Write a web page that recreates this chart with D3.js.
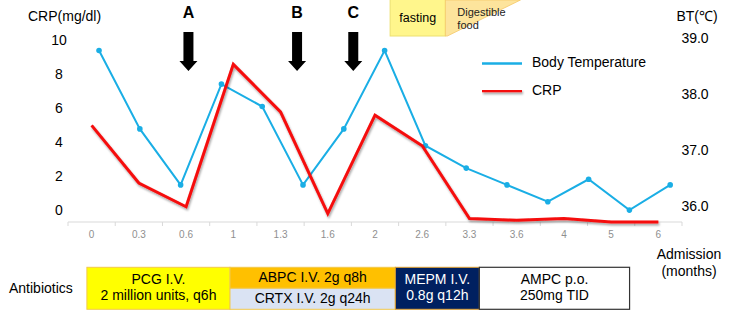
<!DOCTYPE html>
<html>
<head>
<meta charset="utf-8">
<script src="https://cdn.jsdelivr.net/npm/d3@7"></script>
<style>
  html, body { margin: 0; padding: 0; background: #fff; }
  svg { display: block; font-family: "Liberation Sans", Arial, sans-serif; }
</style>
</head>
<body>
<svg id="chart" width="750" height="316"></svg>
<script>
// ---------------- data ----------------
const xCategories = ["0", "0.3", "0.6", "1", "1.3", "1.6", "2", "2.6", "3.3", "3.6", "4", "5", "6"];
const crpValues = [5.7, 2.3, 0.9, 9.3, 6.5, 0.5, 6.3, 4.5, 0.2, 0.1, 0.2, 0.0, 0.0];
const btValues = [38.8, 37.4, 36.4, 38.2, 37.8, 36.4, 37.4, 38.8, 37.1, 36.7, 36.4, 36.1, 36.5, 35.95, 36.4];
const crpTicks = [0, 2, 4, 6, 8, 10];
const btTicks = [36, 37, 38, 39];
const seriesNames = ["Body Temperature", "CRP"];
// event markers, positioned in units of category slots along the time axis
const arrowLabels = ["A", "B", "C"];
const arrowAt = [2.55, 4.85, 6.04];
// diet periods (category-slot units)
const dietLabels = [["fasting"], ["Digestible", "food"]];
const dietFrom = [6.82, 7.99];
const dietTo = [7.99, 9.58];
// antibiotic regimens (category-slot units)
const regimenLines = [
  ["PCG I.V.", "2 million units, q6h"],
  ["ABPC I.V. 2g q8h"],
  ["CRTX I.V. 2g q24h"],
  ["MEPM I.V.", "0.8g q12h"],
  ["AMPC p.o.", "250mg TID"]
];
const regimenFrom = [0.40, 3.43, 3.43, 6.93, 8.71];
const regimenTo = [3.43, 6.93, 6.93, 8.71, 11.89];
const regimenRow = ["full", "top", "bottom", "full", "full"];

// ---------------- styles ----------------
const blue = "#1aaee5";
const red = "#f50a0a";
const regimenFill = ["#ffff00", "#ffc000", "#dae3f3", "#002060", "#ffffff"];
const regimenStroke = ["#f2c94c", "#f2c94c", "#f2c94c", "#e0a030", "#333333"];
const regimenText = ["#000", "#000", "#000", "#fff", "#000"];
const dietFill = ["#fff68c", "#fde49c"];
const dietStroke = ["#ece070", "#f5c96a"];

// ---------------- layout ----------------
const plotLeft = 68, plotRight = 682, axisY = 222;
const svg = d3.select("#chart");

const defs = svg.append("defs");
const f = defs.append("filter").attr("id", "shadow").attr("filterUnits", "userSpaceOnUse")
  .attr("x", 0).attr("y", 0).attr("width", 750).attr("height", 316);
f.append("feDropShadow").attr("dx", 1).attr("dy", 2).attr("stdDeviation", 1.3)
  .attr("flood-color", "#000").attr("flood-opacity", 0.35);

const x = d3.scaleBand().domain(xCategories).range([plotLeft, plotRight]);
const xSlot = d3.scaleLinear().domain([0, xCategories.length]).range([plotLeft, plotRight]);
const xBt = d3.scalePoint().domain(d3.range(btValues.length))
  .range([xSlot(0.657), xSlot(12.75)]);
const yCrp = d3.scaleLinear().domain([0, 10]).range([axisY, 52.5]);
const yBt = d3.scaleLinear().domain([36, 39]).range([207.3, 39.3]);

// x axis
const xAxisG = svg.append("g").attr("transform", `translate(0,${axisY})`);
xAxisG.append("line").attr("x1", plotLeft).attr("x2", plotRight)
  .attr("stroke", "#d9d9d9").attr("stroke-width", 1);
xAxisG.selectAll("line.tick").data(d3.range(xCategories.length + 1)).join("line")
  .attr("class", "tick")
  .attr("x1", d => xSlot(d)).attr("x2", d => xSlot(d))
  .attr("y1", 0).attr("y2", 4).attr("stroke", "#d9d9d9");
xAxisG.selectAll("text").data(xCategories).join("text")
  .attr("x", d => x(d) + x.bandwidth() / 2).attr("y", 13)
  .attr("text-anchor", "middle").attr("dominant-baseline", "middle")
  .attr("font-size", 10).attr("fill", "#8f8f8f")
  .style("font-family", "'Liberation Sans Narrow', 'Liberation Sans', sans-serif")
  .text(d => d);

// left axis labels
svg.append("text").attr("x", 28).attr("y", 17).attr("dominant-baseline", "middle")
  .attr("font-size", 14).text("CRP(mg/dl)");
svg.selectAll("text.crp").data(crpTicks).join("text").attr("class", "crp")
  .attr("x", 59).attr("y", d => yCrp(d) - 11)
  .attr("text-anchor", "middle").attr("dominant-baseline", "middle")
  .attr("font-size", 14).text(d => d);

// right axis labels
svg.append("text").attr("x", 697).attr("y", 17).attr("text-anchor", "middle")
  .attr("dominant-baseline", "middle").attr("font-size", 14).text("BT(℃)");
svg.selectAll("text.bt").data(btTicks).join("text").attr("class", "bt")
  .attr("x", 695).attr("y", d => yBt(d))
  .attr("text-anchor", "middle").attr("dominant-baseline", "middle")
  .attr("font-size", 14).text(d => d.toFixed(1));

// x axis title
svg.selectAll("text.adm").data(["Admission", "(months)"]).join("text").attr("class", "adm")
  .attr("x", 689).attr("y", (d, i) => 255 + i * 17.7)
  .attr("text-anchor", "middle").attr("dominant-baseline", "middle")
  .attr("font-size", 14).text(d => d);

// diet boxes
const dietG = svg.append("g");
dietG.append("rect")
  .attr("x", xSlot(dietFrom[0])).attr("y", -1)
  .attr("width", xSlot(dietTo[0]) - xSlot(dietFrom[0])).attr("height", 37)
  .attr("fill", dietFill[0]).attr("stroke", dietStroke[0]);
dietG.append("path")
  .attr("d", `M${xSlot(dietFrom[1])},0 L${xSlot(dietTo[1])},0 L${xSlot(dietFrom[1]) + 2},36 L${xSlot(dietFrom[1])},36 Z`)
  .attr("fill", dietFill[1]).attr("stroke", dietStroke[1]).attr("stroke-width", 0.8);
dietG.append("text")
  .attr("x", (xSlot(dietFrom[0]) + xSlot(dietTo[0])) / 2).attr("y", 19)
  .attr("text-anchor", "middle").attr("dominant-baseline", "middle")
  .attr("font-size", 12.5).text(dietLabels[0][0]);
dietG.selectAll("text.dg").data(dietLabels[1]).join("text").attr("class", "dg")
  .attr("x", xSlot(dietFrom[1]) + 12).attr("y", (d, i) => 13.5 + i * 13)
  .attr("dominant-baseline", "middle").attr("font-size", 11).attr("fill", "#222")
  .text(d => d);

// arrows
const arrowG = svg.selectAll("g.arrow").data(arrowLabels).join("g").attr("class", "arrow")
  .attr("transform", (d, i) => `translate(${xSlot(arrowAt[i])},0)`);
arrowG.append("text").attr("x", 0).attr("y", 14).attr("text-anchor", "middle")
  .attr("dominant-baseline", "middle").attr("font-size", 16).attr("font-weight", "bold")
  .text(d => d);
arrowG.append("path")
  .attr("d", "M-5,32 L5,32 L5,61 L9,61 L0,71 L-9,61 L-5,61 Z")
  .attr("fill", "#000");

// lines
const btLine = d3.line().x((d, i) => xBt(i)).y(d => yBt(d));
const crpLine = d3.line().x((d, i) => x(xCategories[i]) + x.bandwidth() / 2).y(d => yCrp(d));

svg.append("path").datum(btValues).attr("d", btLine)
  .attr("fill", "none").attr("stroke", blue).attr("stroke-width", 2);
svg.selectAll("circle.bt").data(btValues).join("circle").attr("class", "bt")
  .attr("cx", (d, i) => xBt(i)).attr("cy", d => yBt(d)).attr("r", 2.8).attr("fill", blue);

svg.append("path").datum(crpValues).attr("d", crpLine)
  .attr("fill", "none").attr("stroke", red).attr("stroke-width", 3)
  .attr("stroke-linejoin", "miter").attr("filter", "url(#shadow)");

// legend
const legendColors = [blue, red];
const legendWidths = [2.5, 3];
const lg = svg.selectAll("g.legend").data(seriesNames).join("g").attr("class", "legend")
  .attr("transform", (d, i) => `translate(482,${63.5 + i * 27.3})`);
lg.append("line").attr("x1", 0).attr("x2", 40).attr("y1", 0).attr("y2", 0)
  .attr("stroke", (d, i) => legendColors[i]).attr("stroke-width", (d, i) => legendWidths[i])
  .attr("filter", (d, i) => i === 1 ? "url(#shadow)" : null);
lg.append("text").attr("x", 50).attr("y", 0).attr("dominant-baseline", "middle")
  .attr("font-size", 14).text(d => d);

// antibiotics table
const tTop = 267.3, tMid = 288.3, tBot = 309.3;
svg.append("text").attr("x", 9).attr("y", 289).attr("dominant-baseline", "middle")
  .attr("font-size", 14).text("Antibiotics");
const rowY = r => r === "bottom" ? tMid : tTop;
const rowH = r => r === "full" ? tBot - tTop : tMid - tTop;
const cells = svg.selectAll("g.cell").data(regimenLines).join("g").attr("class", "cell");
cells.append("rect")
  .attr("x", (d, i) => xSlot(regimenFrom[i])).attr("y", (d, i) => rowY(regimenRow[i]))
  .attr("width", (d, i) => xSlot(regimenTo[i]) - xSlot(regimenFrom[i]))
  .attr("height", (d, i) => rowH(regimenRow[i]))
  .attr("fill", (d, i) => regimenFill[i]).attr("stroke", (d, i) => regimenStroke[i])
  .attr("stroke-width", (d, i) => i === 4 ? 1.2 : 1);
cells.each(function (lines, i) {
  const cx = (xSlot(regimenFrom[i]) + xSlot(regimenTo[i])) / 2;
  const cy = rowY(regimenRow[i]) + rowH(regimenRow[i]) / 2;
  const n = lines.length;
  d3.select(this).selectAll("text").data(lines).join("text")
    .attr("x", cx).attr("y", (d, j) => cy + (j - (n - 1) / 2) * 16.6)
    .attr("text-anchor", "middle").attr("dominant-baseline", "middle")
    .attr("font-size", 14).attr("fill", regimenText[i]).text(d => d);
});
</script>
</body>
</html>
